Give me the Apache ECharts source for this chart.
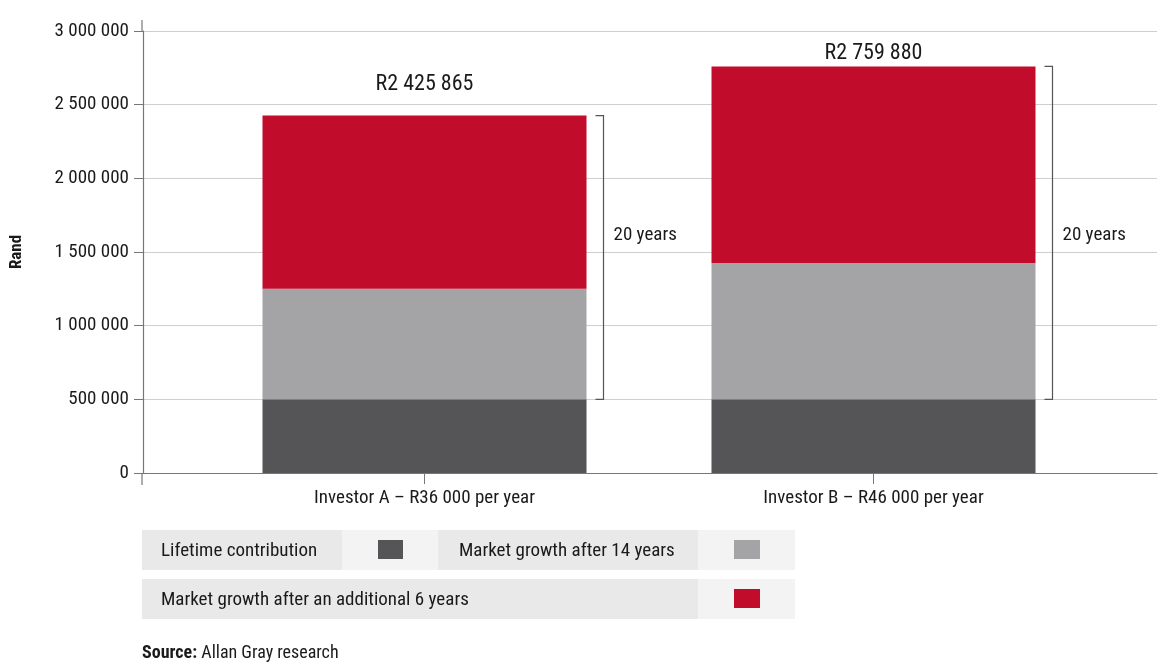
<!DOCTYPE html>
<html>
<head>
<meta charset="utf-8">
<script src="https://cdn.jsdelivr.net/npm/echarts@6/dist/echarts.min.js"></script>
<style>
  html, body { margin: 0; padding: 0; background: #fff; }
  #chart { width: 1166px; height: 668px; }
</style>
</head>
<body>
<div id="chart"></div>
<script>
// data
var categories = ['Investor A \u2013 R36 000 per year', 'Investor B \u2013 R46 000 per year'];
var lifetime = [500000, 500000];
var growth14 = [750000, 925000];
var growth6 = [1175865, 1334880];
var totals = [2425865, 2759880];
var totalLabels = ['R2 425 865', 'R2 759 880'];
var yTicks = [0, 500000, 1000000, 1500000, 2000000, 2500000, 3000000];

var FONT = "'Roboto Condensed', 'Liberation Sans Narrow', 'Roboto', sans-serif";
var C_DARK = '#555457';
var C_GREY = '#a4a4a6';
var C_RED = '#c20c2b';

function fmt(v) {
    return String(v).replace(/\B(?=(\d{3})+(?!\d))/g, ' ');
}

// bracket "20 years" from contribution top to total
var bracketData = totals.map(function (t, i) {
    return [i, lifetime[i], t, 1625000];
});

var chart = echarts.init(document.getElementById('chart'));

var option = {
    animation: false,
    textStyle: { fontFamily: FONT },
    grid: [
        { left: 142, right: 9, top: 31, bottom: 195 },
        { left: 200, right: 68, top: 31, bottom: 195 }
    ],
    xAxis: [
        {
            gridIndex: 0, type: 'category', data: [''],
            axisLine: { lineStyle: { color: '#777', width: 1.2 } },
            axisTick: { show: false }, axisLabel: { show: false }
        },
        {
            gridIndex: 1, type: 'category', data: categories,
            axisLine: { show: false },
            axisTick: { show: true, alignWithLabel: true, length: 11, lineStyle: { color: '#777' } },
            axisLabel: { color: '#1a1a1a', fontSize: 19, margin: 16, fontFamily: FONT }
        }
    ],
    yAxis: [
        {
            gridIndex: 0, type: 'value', min: 0, max: 3000000, interval: 500000,
            name: 'Rand', nameLocation: 'middle', nameGap: 118, nameRotate: 90,
            nameTextStyle: { fontWeight: 'bold', fontSize: 17, color: '#1a1a1a', fontFamily: FONT },
            axisLine: { show: true, lineStyle: { color: '#777', width: 1.2 } },
            axisTick: { show: true, length: 9, lineStyle: { color: '#777' } },
            axisLabel: { color: '#1a1a1a', fontSize: 19, margin: 14, fontFamily: FONT, formatter: fmt },
            splitLine: { show: true, lineStyle: { color: '#cfcfcf', width: 1 } }
        },
        {
            gridIndex: 1, type: 'value', min: 0, max: 3000000, interval: 500000,
            show: false, splitLine: { show: false }
        }
    ],
    series: [
        {
            name: 'Lifetime contribution', type: 'bar', stack: 'total',
            xAxisIndex: 1, yAxisIndex: 1, barWidth: 324,
            itemStyle: { color: C_DARK }, data: lifetime
        },
        {
            name: 'Market growth after 14 years', type: 'bar', stack: 'total',
            xAxisIndex: 1, yAxisIndex: 1, barWidth: 324,
            itemStyle: { color: C_GREY }, data: growth14
        },
        {
            name: 'Market growth after an additional 6 years', type: 'bar', stack: 'total',
            xAxisIndex: 1, yAxisIndex: 1, barWidth: 324,
            itemStyle: { color: C_RED },
            data: growth6.map(function (v, i) {
                return {
                    value: v,
                    label: {
                        show: true, position: 'top', distance: i === 0 ? 20 : 2,
                        formatter: totalLabels[i], color: '#1a1a1a', fontSize: 22, fontFamily: FONT
                    }
                };
            })
        },
        {
            type: 'custom', xAxisIndex: 1, yAxisIndex: 1, silent: true,
            data: bracketData,
            renderItem: function (params, api) {
                var top = api.coord([api.value(0), api.value(2)]);
                var bot = api.coord([api.value(0), api.value(1)]);
                var mid = api.coord([api.value(0), api.value(3)]);
                var x = top[0] + 162 + 17;
                var st = { stroke: '#555', lineWidth: 1.2, fill: null };
                return {
                    type: 'group',
                    children: [
                        { type: 'polyline', shape: { points: [[x - 8, top[1]], [x, top[1]], [x, bot[1]], [x - 8, bot[1]]] }, style: st },
                        { type: 'text', x: x + 10, y: mid[1] + 2, style: { text: '20 years', fill: '#1a1a1a', font: '19px ' + FONT, textVerticalAlign: 'middle' } }
                    ]
                };
            }
        }
    ],
    graphic: [
        // y axis line runs a little past both ends
        { type: 'line', shape: { x1: 142, y1: 20, x2: 142, y2: 31 }, style: { stroke: '#777', lineWidth: 1.2 } },
        { type: 'line', shape: { x1: 142, y1: 473, x2: 142, y2: 485 }, style: { stroke: '#777', lineWidth: 1.2 } },
        // legend table
        { type: 'rect', shape: { x: 142, y: 530, width: 200, height: 40 }, style: { fill: '#e9e9e9' } },
        { type: 'rect', shape: { x: 342, y: 530, width: 96, height: 40 }, style: { fill: '#f3f3f3' } },
        { type: 'rect', shape: { x: 438, y: 530, width: 260, height: 40 }, style: { fill: '#e9e9e9' } },
        { type: 'rect', shape: { x: 698, y: 530, width: 97, height: 40 }, style: { fill: '#f3f3f3' } },
        { type: 'rect', shape: { x: 142, y: 579, width: 556, height: 40 }, style: { fill: '#e9e9e9' } },
        { type: 'rect', shape: { x: 698, y: 579, width: 97, height: 40 }, style: { fill: '#f3f3f3' } },
        { type: 'rect', shape: { x: 378, y: 540, width: 25, height: 19 }, style: { fill: C_DARK } },
        { type: 'rect', shape: { x: 734, y: 540, width: 26, height: 19 }, style: { fill: C_GREY } },
        { type: 'rect', shape: { x: 734, y: 589, width: 26, height: 19 }, style: { fill: C_RED } },
        { type: 'text', x: 161, y: 551, style: { text: 'Lifetime contribution', fill: '#1a1a1a', font: '19px ' + FONT, textVerticalAlign: 'middle' } },
        { type: 'text', x: 459, y: 551, style: { text: 'Market growth after 14 years', fill: '#1a1a1a', font: '19px ' + FONT, textVerticalAlign: 'middle' } },
        { type: 'text', x: 161, y: 600, style: { text: 'Market growth after an additional 6 years', fill: '#1a1a1a', font: '19px ' + FONT, textVerticalAlign: 'middle' } },
        // source line
        {
            type: 'text', x: 142, y: 653,
            style: {
                text: '{b|Source:} Allan Gray research', textVerticalAlign: 'middle',
                font: '18px ' + FONT, fill: '#1a1a1a',
                rich: { b: { fontWeight: 'bold', fontSize: 18, fontFamily: FONT, fill: '#1a1a1a' } }
            }
        }
    ]
};

chart.setOption(option);
</script>
</body>
</html>
